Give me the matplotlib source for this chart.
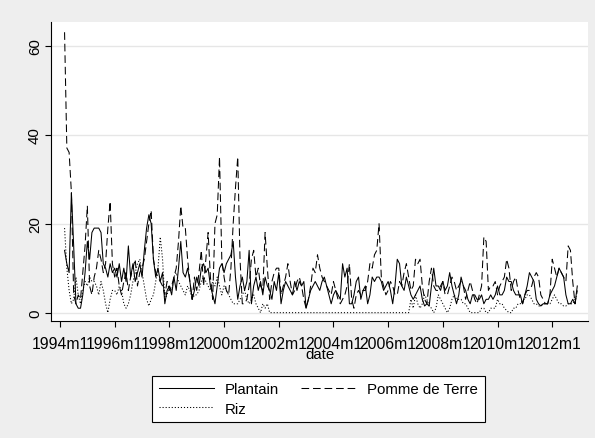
import matplotlib
matplotlib.use('Agg')
import matplotlib.pyplot as plt
import numpy as np

# ---- data (monthly, starting 1994m3) ----
start_year = 1994
start_month = 3

plantain = [
    14, 11, 9, 27, 15, 2, 1, 1, 4, 9,                 # 1994
    16, 12, 18, 19, 19, 19, 18, 11, 10, 8, 11, 9,     # 1995
    10, 8, 11, 7, 10, 7, 15, 8, 11, 7, 9, 11,         # 1996
    8, 14, 19, 22, 20, 12, 8, 10, 7, 9, 2, 5,         # 1997
    6, 4, 8, 5, 10, 16, 9, 8, 10, 7, 3, 5,            # 1998
    8, 6, 10, 11, 9, 10, 6, 4, 2, 6, 10, 11,          # 1999
    9, 11, 12, 13, 16, 8, 3, 6, 8, 5, 7, 14,          # 2000
    2, 6, 8, 5, 7, 4, 8, 6, 5, 3, 7, 5,               # 2001
    9, 2, 5, 7, 6, 5, 4, 7, 5, 7, 6, 7,               # 2002
    1, 3, 5, 6, 7, 6, 5, 7, 8, 6, 4, 2,               # 2003
    4, 5, 4, 3, 11, 8, 10, 2, 2, 4, 7, 8,             # 2004
    3, 5, 6, 2, 4, 8, 7, 8, 8, 7, 5, 6,               # 2005
    7, 5, 2, 6, 12, 11, 6, 5, 8, 6, 4, 3,             # 2006
    4, 5, 6, 3, 1.5, 2, 1.5, 6, 10, 6, 6, 5,          # 2007
    7, 5, 6, 9, 6, 4, 2, 4, 8, 6, 5, 3,               # 2008
    2, 4, 4, 3, 3, 4, 2, 3, 3, 4, 3, 4,               # 2009
    6, 4, 4, 5, 8, 7, 7, 5, 4, 4, 4, 2,               # 2010
    4, 6, 9, 8, 7, 3, 2, 1.5, 2, 2, 2, 4,             # 2011
    5, 6, 8, 10, 9, 8, 4, 2, 2, 3, 2, 6,              # 2012
]

pomme_de_terre = [
    63, 37, 36, 27, 4, 2, 4, 3, 9, 15,                # 1994
    24, 6, 4, 8, 10, 14, 12, 9, 11, 19, 25, 11,       # 1995
    8, 10, 6, 4, 7, 9, 5, 8, 10, 12, 6, 9,            # 1996
    10, 12, 16, 20, 23, 12, 9, 8, 7, 6, 4, 7,         # 1997
    5, 6, 8, 10, 16, 24, 19, 19, 12, 7, 3, 8,         # 1998
    5, 9, 14, 6, 12, 18, 8, 3, 20, 22, 35, 12,        # 1999
    8, 5, 4, 10, 20, 28, 35, 12, 2, 2, 3, 6,          # 2000
    12, 14, 8, 10, 6, 5, 18, 10, 3, 7, 9, 10,         # 2001
    10, 4, 6, 8, 11, 7, 4, 5, 7, 8, 6, 3,             # 2002
    1, 3, 6, 10, 9, 13, 10, 8, 7, 6, 5, 4,            # 2003
    7, 5, 3, 2, 3, 4, 6, 11, 3, 1, 4, 5,              # 2004
    4, 5, 5, 7, 11, 10, 13, 14, 20, 8, 6, 4,          # 2005
    5, 7, 6, 4, 4, 7, 6, 9, 11, 8, 5, 6,              # 2006
    12, 11, 12, 6, 3, 2, 7, 10, 6, 5, 5, 6,           # 2007
    7, 4, 4, 6, 8, 7, 5, 6, 7, 6, 3, 5,               # 2008
    7, 5, 3, 2, 4, 6, 17, 16, 5, 6, 6, 7,             # 2009
    4, 6, 7, 8, 12, 10, 5, 7, 8, 5, 3, 2,             # 2010
    4, 5, 5, 6, 8, 9, 8, 4, 3, 2, 2, 4,               # 2011
    12, 10, 8, 10, 9, 8, 7, 15, 14, 7, 2, 5,          # 2012
]

riz = [
    19, 10, 5, 2, 3, 8, 4, 2, 5, 7,                   # 1994
    6, 8, 7, 7, 6, 4, 7, 5, 2, 0, 3, 5,               # 1995
    5, 4, 6, 5, 2, 1, 2, 4, 7, 9, 11, 12,             # 1996
    9, 6, 3, 1.5, 3, 4, 7, 10, 17, 12, 3, 4,          # 1997
    6, 5, 8, 9, 7, 6, 5, 4, 6, 5, 3, 4,               # 1998
    4, 5, 7, 8, 7, 6, 5, 7, 6, 8, 6, 4,               # 1999
    6, 5, 4, 3, 2, 2, 2, 3, 4, 5, 3, 2,               # 2000
    3, 4, 2, 1, 0, 2, 1, 2, 0, 0, 0, 0,               # 2001
    0, 0, 0, 0, 0, 0, 0, 0, 0, 0, 0, 0,               # 2002
    0, 0, 0, 0, 0, 0, 0, 0, 0, 0, 0, 0,               # 2003
    0, 0, 0, 0, 0, 0, 0, 0, 0, 0, 0, 0,               # 2004
    0, 0, 0, 0, 0, 0, 0, 0, 0, 0, 0, 0,               # 2005
    0, 0, 0, 0, 0, 0, 0, 0, 0, 0, 3, 1,               # 2006
    4, 2, 1, 2, 4, 3, 1.5, 1, 0, 1, 4, 3,             # 2007
    2, 1, 0, 1, 3, 4, 3, 3, 3, 2, 2, 1,               # 2008
    0, 0, 0, 0, 0, 1, 1, 0, 0, 1, 1, 1,               # 2009
    3, 2, 2, 1, 0.5, 0, 0, 1, 1, 2, 2, 3,             # 2010
    3, 4, 4, 3, 2, 2, 1.5, 1.5, 2, 2, 2, 2,           # 2011
    3, 4, 3, 2, 2, 1.5, 1.5, 2, 2, 2, 3, 4,           # 2012
]

tick_labels = ["1994m1", "1996m1", "1998m1", "2000m1", "2002m1",
               "2004m1", "2006m1", "2008m1", "2010m1", "2012m1"]
y_ticks = [0, 20, 40, 60]

# ---- plotting ----
plt.rcParams['font.family'] = ['Liberation Sans', 'DejaVu Sans']
plt.rcParams['lines.scale_dashes'] = False

W, H = 595, 439
fig = plt.figure(figsize=(W / 100, H / 100), dpi=100, facecolor='#eeeeee')
ax = fig.add_axes([51 / W, 1 - 322 / H, 537 / W, 299 / H])
ax.set_facecolor('white')

# x as months elapsed since 1994m1
x = np.arange(len(plantain)) + (start_month - 1)
tick_pos = [(int(t[:4]) - start_year) * 12 + int(t[5:]) - 1 for t in tick_labels]

lw = 0.75
h1, = ax.plot(x, plantain, color='black', lw=lw, ls='-', label='Plantain')
h2, = ax.plot(x, pomme_de_terre, color='black', lw=lw, ls=(0, (5.5, 2.8)),
              label='Pomme de Terre')
h3, = ax.plot(x, riz, color='black', lw=lw, ls=(0, (0.8, 1.4)), label='Riz')

ax.set_xlim(-3.95, 231.7)
ax.set_ylim(-1.87, 65.3)
ax.set_yticks(y_ticks)
ax.set_xticks(tick_pos, tick_labels)
ax.grid(axis='y', color='#e6e6e6', lw=1.0)
ax.grid(axis='x', visible=False)
ax.set_axisbelow(True)

for s in ['top', 'right']:
    ax.spines[s].set_visible(False)
for s in ['left', 'bottom']:
    ax.spines[s].set_linewidth(0.8)
    ax.spines[s].set_color('black')

ax.tick_params(axis='y', length=4.5, width=0.8, labelsize=10.8, pad=2)
for lab in ax.get_yticklabels():
    lab.set_rotation(90)
    lab.set_va('center')
ax.tick_params(axis='x', length=4.5, width=0.8, labelsize=11.3, pad=6)

fig.text(319.5 / W, 1 - 355 / H, 'date', ha='center', va='center', fontsize=10.8)

leg = fig.legend(handles=[h1, h3, h2], loc='center',
                 bbox_to_anchor=(318.5 / W, 1 - 400 / H), ncol=2,
                 frameon=True, fancybox=False, edgecolor='black',
                 facecolor='white', framealpha=1, handlelength=3.7,
                 handletextpad=0.7, columnspacing=1.5, borderpad=0.45,
                 labelspacing=0.35, fontsize=10.8)
leg.get_frame().set_linewidth(0.8)

fig.savefig('out.png', dpi=100, facecolor=fig.get_facecolor())
